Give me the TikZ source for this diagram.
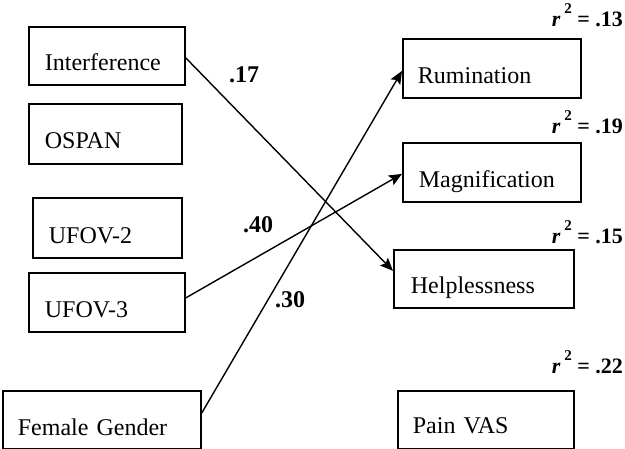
\documentclass[tikz,border=0pt]{standalone}
\usepackage{fontspec}
\setmainfont{Liberation Serif}
\usetikzlibrary{arrows.meta}
\begin{document}
\begin{tikzpicture}[x=1pt,y=-1pt,
  box/.style={draw, line width=1.8pt, inner sep=0pt, anchor=north west, align=left,
    font=\fontsize{24}{28}\selectfont},
  link/.style={line width=1.4pt, -{Stealth[length=13pt,width=11pt,inset=2.5pt]}},
  coef/.style={font=\fontsize{24}{28}\selectfont\bfseries, anchor=base west, inner sep=0pt},
  rsq/.style={font=\fontsize{22}{24}\selectfont\bfseries, anchor=base east, inner sep=0pt}]
\useasboundingbox (0,0) rectangle (625,449);
% left boxes
\node[box, minimum width=156pt, text width=124pt, text height=44pt, text depth=14pt] (interf) at (28,26) {Interference};
\node[box, minimum width=153pt, text width=121pt, text height=45pt, text depth=15pt] (ospan) at (28,103) {OSPAN};
\node[box, minimum width=149pt, text width=117pt, text height=46pt, text depth=14pt] (ufovtwo) at (32,197) {UFOV-2};
\node[box, minimum width=156pt, text width=124pt, text height=45pt, text depth=14pt] (ufovthree) at (28,272) {UFOV-3};
\node[box, minimum width=198pt, text width=168pt, text height=45pt, text depth=13pt] (female) at (2,390) {Female Gender};
% right boxes
\node[box, minimum width=178pt, text width=148pt, text height=45pt, text depth=14pt] (rum) at (402,38) {Rumination};
\node[box, minimum width=178pt, text width=146pt, text height=45pt, text depth=14pt] (mag) at (402,142) {Magnification};
\node[box, minimum width=180pt, text width=146pt, text height=44pt, text depth=14pt] (help) at (393,249) {Helplessness};
\node[box, minimum width=176pt, text width=146pt, text height=43pt, text depth=15pt] (pain) at (397,390) {Pain VAS};
% paths
\draw[link] ([yshift=-2pt]interf.east) -- ([yshift=8pt]help.west);
\draw[link] ([yshift=4.5pt]ufovthree.east) -- ([yshift=-1.5pt]mag.west);
\draw[link] ([yshift=7pt]female.east) -- ([yshift=-2.5pt]rum.west);
% coefficients
\node[coef] (c17) at (229,83) {.17};
\node[coef] (c40) at (243,233) {.40};
\node[coef] (c30) at (275,308) {.30};
% r squared
\node[rsq] (rrum) at (623,27) {\textit{r}\,\raisebox{13pt}{\fontsize{15}{15}\selectfont 2}\ = .13};
\node[rsq] (rmag) at (623,134) {\textit{r}\,\raisebox{13pt}{\fontsize{15}{15}\selectfont 2}\ = .19};
\node[rsq] (rhelp) at (623,244) {\textit{r}\,\raisebox{13pt}{\fontsize{15}{15}\selectfont 2}\ = .15};
\node[rsq] (rpain) at (623,374) {\textit{r}\,\raisebox{13pt}{\fontsize{15}{15}\selectfont 2}\ = .22};
\end{tikzpicture}
\end{document}
